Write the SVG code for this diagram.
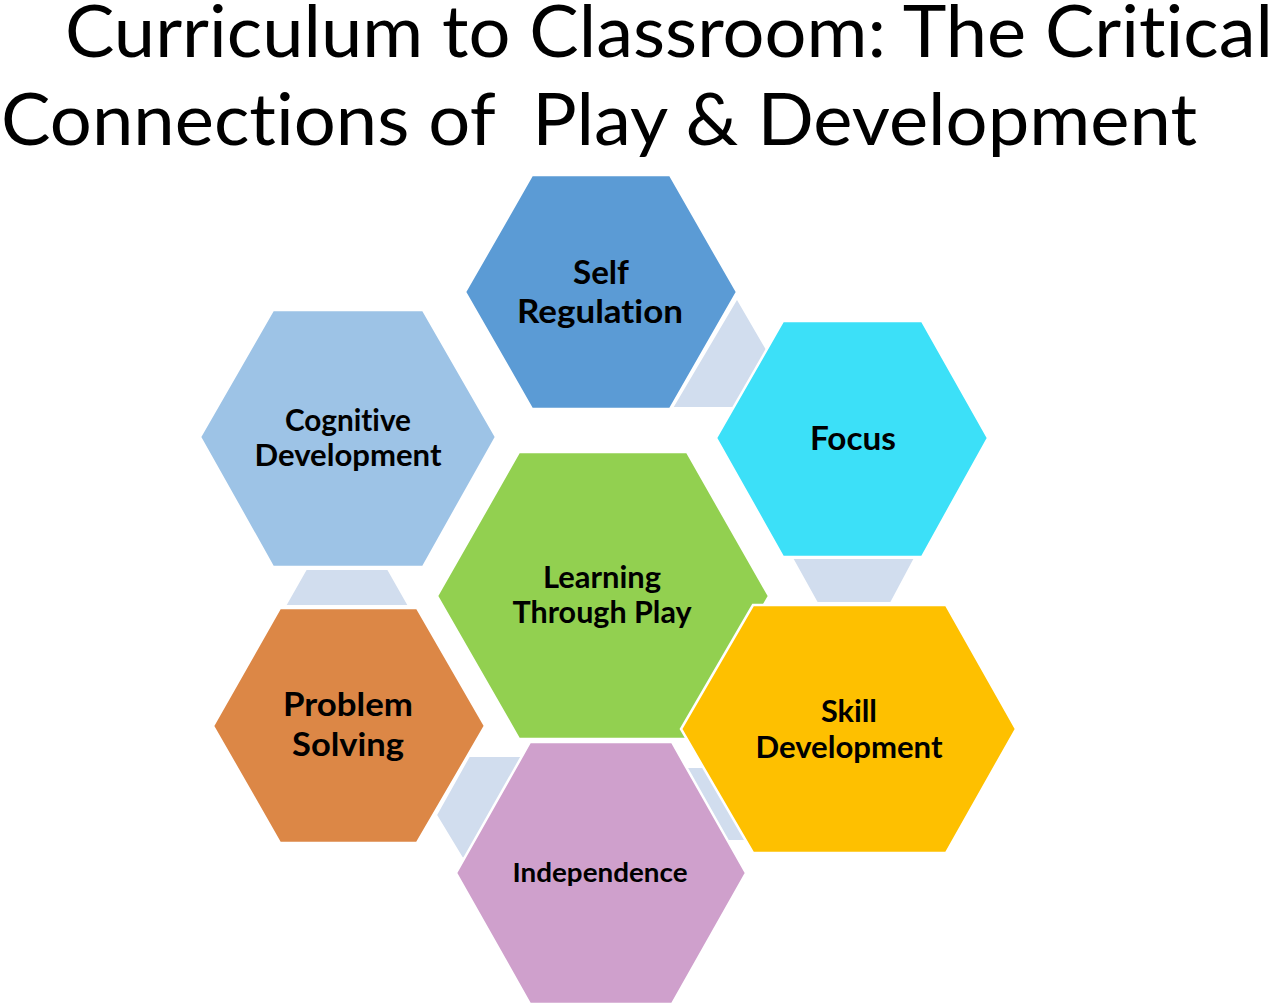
<svg xmlns="http://www.w3.org/2000/svg" width="1279" height="1005" viewBox="0 0 1279 1005">
<style>
text{font-variant-ligatures:none;font-feature-settings:"liga" 0,"clig" 0}
.title{font-family:Lato,"Open Sans","Liberation Sans",sans-serif;font-size:72px;fill:#000}
.lbl{font-family:Lato,"Open Sans","Liberation Sans",sans-serif;font-weight:bold;fill:#000;text-anchor:middle}
.hex{stroke:#fff;stroke-width:2.5;stroke-linejoin:miter}
.con{fill:#D1DDEE;stroke:#fff;stroke-width:2}
</style>
<rect width="1279" height="1005" fill="#fff"/>
<g id="title">
<text class="title" x="65" y="57" textLength="1208" lengthAdjust="spacingAndGlyphs">Curriculum to Classroom: The Critical</text>
<text class="title" x="1" y="145" textLength="1196" lengthAdjust="spacingAndGlyphs" xml:space="preserve">Connections of  Play &amp; Development</text>
</g>
<g id="connectors">
<polygon class="con" points="737,298 780,372 740,408 672,408"/>
<polygon class="con" points="792,558 915,558 891,603 817,603"/>
<polygon class="con" points="306,569 388,569 409,606 285,606"/>
<polygon class="con" points="469,756 545,756 500,870 462,858 436,815"/>
<polygon class="con" points="680,767 720,767 760,841 715,841"/>
</g>
<g id="learning">
<polygon class="hex" fill="#92D050" points="519,452 687,452 769,596 687,739 519,739 437,596"/>
<text class="lbl" font-size="30" x="602" y="588" textLength="118" lengthAdjust="spacingAndGlyphs">Learning</text>
<text class="lbl" font-size="30" x="602" y="623" textLength="179" lengthAdjust="spacingAndGlyphs">Through Play</text>
</g>
<g id="self-regulation">
<polygon class="hex" fill="#5B9BD5" points="532,175 670,175 737,292 670,409 532,409 465,292"/>
<text class="lbl" font-size="33" x="601" y="284" textLength="56" lengthAdjust="spacingAndGlyphs">Self</text>
<text class="lbl" font-size="33" x="600" y="323" textLength="166" lengthAdjust="spacingAndGlyphs">Regulation</text>
</g>
<g id="focus">
<polygon class="hex" fill="#3CE0F8" points="783,321 922,321 988,438 922,557 783,557 716,438"/>
<text class="lbl" font-size="33" x="853" y="450" textLength="86" lengthAdjust="spacingAndGlyphs">Focus</text>
</g>
<g id="cognitive-development">
<polygon class="hex" fill="#9DC3E6" points="273,310 423,310 496,437 423,567 273,567 200,437"/>
<text class="lbl" font-size="29.5" x="348" y="431" textLength="126" lengthAdjust="spacingAndGlyphs">Cognitive</text>
<text class="lbl" font-size="29.5" x="348" y="466" textLength="187" lengthAdjust="spacingAndGlyphs">Development</text>
</g>
<g id="problem-solving">
<polygon class="hex" fill="#DC8746" points="280,608 417,608 485,726 417,843 280,843 213,726"/>
<text class="lbl" font-size="33" x="348" y="716" textLength="130" lengthAdjust="spacingAndGlyphs">Problem</text>
<text class="lbl" font-size="33" x="348" y="756" textLength="112" lengthAdjust="spacingAndGlyphs">Solving</text>
</g>
<g id="independence">
<polygon class="hex" fill="#CFA0CC" points="530,742 672,742 746,873 672,1004 530,1004 456,873"/>
<text class="lbl" font-size="26.5" x="600" y="882" textLength="175" lengthAdjust="spacingAndGlyphs">Independence</text>
</g>
<g id="skill-development">
<polygon class="hex" fill="#FEC000" points="753,605 946,605 1016,729 946,853 753,853 681,729"/>
<text class="lbl" font-size="29.5" x="849" y="722" textLength="56" lengthAdjust="spacingAndGlyphs">Skill</text>
<text class="lbl" font-size="29.5" x="849" y="758" textLength="187" lengthAdjust="spacingAndGlyphs">Development</text>
</g>
</svg>
